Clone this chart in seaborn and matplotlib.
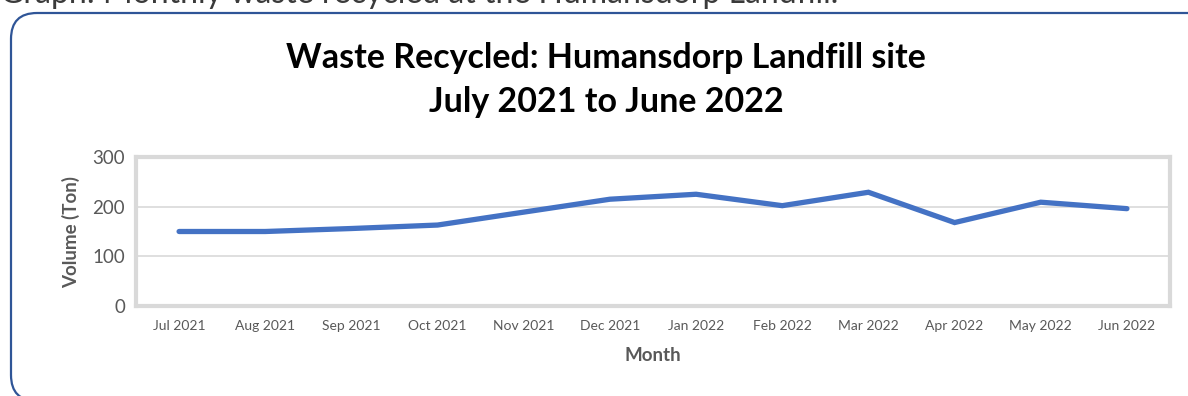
import matplotlib
matplotlib.use("Agg")
import matplotlib.pyplot as plt
import seaborn as sns
import pandas as pd
from matplotlib.patches import FancyBboxPatch

months = ["Jul 2021", "Aug 2021", "Sep 2021", "Oct 2021", "Nov 2021", "Dec 2021",
          "Jan 2022", "Feb 2022", "Mar 2022", "Apr 2022", "May 2022", "Jun 2022"]
volume_ton = [150, 150, 156, 163, 189, 215, 225, 202, 229, 168, 209, 196]
y_ticks = [0, 100, 200, 300]

df = pd.DataFrame({"Month": months, "Volume": volume_ton})
df["pos"] = range(len(months))

sns.set_theme(style="white")
plt.rcParams["font.family"] = ["Lato", "DejaVu Sans"]

W, H = 1188, 396
fig = plt.figure(figsize=(W / 100, H / 100), dpi=100)
fig.patch.set_facecolor("white")

# rounded outer frame (inch units so the corners stay circular)
box = FancyBboxPatch((0.11, -0.05), 12.1, 3.88,
                     boxstyle="round,pad=0,rounding_size=0.26",
                     transform=fig.dpi_scale_trans, facecolor="none",
                     edgecolor="#2F5597", linewidth=1.6)
fig.patches.append(box)

# caption line above the frame
fig.text(0.0, 1 + 6 / H, "Graph: Monthly waste recycled at the Humansdorp Landfill.",
         ha="left", va="center", fontsize=23, color="#3a3a3a")

ax = fig.add_axes([136 / W, 1 - 306 / H, (1170 - 136) / W, (306 - 157) / H])
sns.lineplot(data=df, x="pos", y="Volume", ax=ax, color="#4472C4",
             linewidth=3.8, solid_capstyle="round", solid_joinstyle="miter")

ax.set_xlim(-0.5, len(months) - 0.5)
ax.set_ylim(0, 300)
ax.set_yticks(y_ticks)
ax.set_yticklabels([str(t) for t in y_ticks], fontsize=13.5, color="#595959")
ax.set_xticks(df["pos"])
ax.set_xticklabels(months, fontsize=10, color="#595959")
ax.tick_params(axis="both", length=0)
ax.tick_params(axis="x", pad=10)
ax.tick_params(axis="y", pad=8)
ax.grid(axis="y", color="#D9D9D9", linewidth=1.2)
ax.set_axisbelow(True)
for s in ax.spines.values():
    s.set_visible(True)
    s.set_color("#D9D9D9")
    s.set_linewidth(3)

ax.set_xlabel("Month", fontsize=13.5, fontweight="bold", color="#595959", labelpad=11)
ax.set_ylabel("Volume (Ton)", fontsize=13.5, fontweight="bold", color="#595959", labelpad=9)

fig.text(606 / W, 1 - 80 / H, "Waste Recycled: Humansdorp Landfill site\nJuly 2021 to June 2022",
         ha="center", va="center", fontsize=24.5, fontweight="bold", color="black",
         linespacing=1.5)

fig.savefig("out.png", dpi=100, facecolor="white")
